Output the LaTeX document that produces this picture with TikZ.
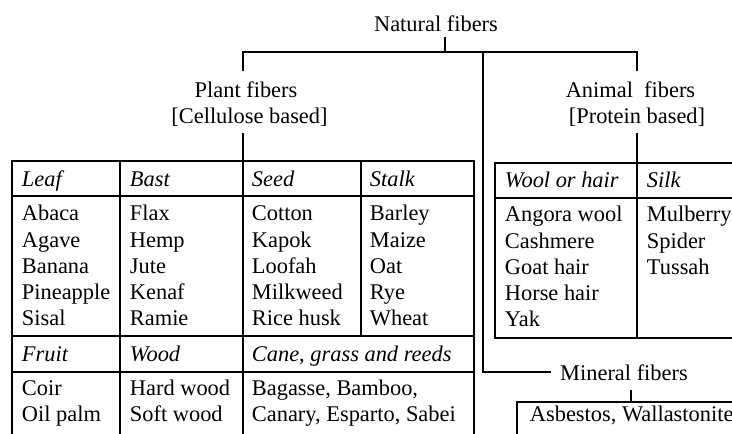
\documentclass[tikz,border=0pt]{standalone}
\usepackage{fontspec}
\setmainfont{Liberation Serif}
\newcommand{\lblfont}{\fontsize{22.4}{26.3}\selectfont}
\begin{document}
\begin{tikzpicture}[x=1pt,y=-1pt,line width=1.9pt,
  lbl/.style={inner sep=0pt,font=\lblfont,anchor=base},
  cell/.style={inner sep=0pt,font=\lblfont,anchor=base west},
  head/.style={cell,font=\lblfont\itshape},
  grid/.style={line width=1.9pt,line cap=rect}]
\useasboundingbox (0,0) rectangle (732,434);
\clip (0,0) rectangle (732,434);

% --- category labels ---
\node[lbl] (natural)    at (436,31.5)  {Natural fibers};
\node[lbl] (plant)      at (246,97)    {Plant fibers};
\node[lbl] (plantsub)   at (249.5,123) {[Cellulose based]};
\node[lbl] (animal)     at (630.5,97)  {Animal\ \ fibers};
\node[lbl] (animalsub)  at (637,123)   {[Protein based]};
\node[lbl] (mineral)    at (624,380)   {Mineral fibers};

% --- junction points of the tree ---
\coordinate (nat-stem)   at (445,37);
\coordinate (nat-bar)    at (445,52);
\coordinate (plant-top)  at (243,71);
\coordinate (plant-bot)  at (243,133);
\coordinate (animal-top) at (637,71);
\coordinate (animal-bot) at (637,133);
\coordinate (min-split)  at (483,52);
\coordinate (min-end)    at (551,372.3);
\coordinate (min-stem)   at (631,390);

% --- plant table frame ---
\coordinate (pt-nw) at (12,160.7);
\coordinate (pt-se) at (474,450);
\coordinate (pt-tab) at (243,160.7);
% --- animal table frame ---
\coordinate (at-nw) at (495,162.7);
\coordinate (at-se) at (760,338.3);
\coordinate (at-tab) at (637,162.7);
% --- mineral box ---
\coordinate (mb-nw) at (517,401.7);
\coordinate (mb-se) at (760,460);
\coordinate (mb-tab) at (631,401.7);

% connectors
\draw (nat-stem) -- (nat-bar);
\draw (plant-top) |- (animal-top |- nat-bar) -- (animal-top);
\draw (plant-bot) -- (pt-tab);
\draw (animal-bot) -- (at-tab);
\draw (min-split) |- (min-end);
\draw (min-stem) -- (mb-tab);

% plant table grid
\draw[grid] (pt-nw) rectangle (pt-se);
\draw[grid] (12,196) -- (474,196);
\draw[grid] (12,336) -- (474,336);
\draw[grid] (12,371.7) -- (474,371.7);
\draw[grid] (120,160.7) -- (120,450);
\draw[grid] (243,160.7) -- (243,450);
\draw[grid] (361,160.7) -- (361,336);

% animal table grid
\draw[grid] (at-nw) rectangle (at-se);
\draw[grid] (495,197.7) -- (760,197.7);
\draw[grid] (637,162.7) -- (637,338.3);

% mineral box
\draw[grid] (mb-nw) rectangle (mb-se);

% plant table headers
\node[head] (h-leaf)  at (21,186.7)   {Leaf};
\node[head] (h-bast)  at (129,186.7)  {Bast};
\node[head] (h-seed)  at (251,186.7)  {Seed};
\node[head] (h-stalk) at (369,186.7)  {Stalk};
\node[head] (h-fruit) at (21,361.5)   {Fruit};
\node[head] (h-wood)  at (129,361.5)  {Wood};
\node[head] (h-cane)  at (251,361.5)  {Cane, grass and reeds};

% plant table entries
\foreach \t [count=\i from 0] in {Abaca,Agave,Banana,Pineapple,Sisal}
  \node[cell] (leaf-\i) at (21,220.7+26.3*\i) {\t};
\foreach \t [count=\i from 0] in {Flax,Hemp,Jute,Kenaf,Ramie}
  \node[cell] (bast-\i) at (129,220.7+26.3*\i) {\t};
\foreach \t [count=\i from 0] in {Cotton,Kapok,Loofah,Milkweed,Rice husk}
  \node[cell] (seed-\i) at (251,220.7+26.3*\i) {\t};
\foreach \t [count=\i from 0] in {Barley,Maize,Oat,Rye,Wheat}
  \node[cell] (stalk-\i) at (369,220.7+26.3*\i) {\t};
\node[cell] (fruit-0) at (21,395.5)  {Coir};
\node[cell] (fruit-1) at (21,421.7)  {Oil palm};
\node[cell] (wood-0)  at (129,395.5) {Hard wood};
\node[cell] (wood-1)  at (129,421.7) {Soft wood};
\node[cell] (cane-0)  at (251,395.5) {Bagasse, Bamboo,};
\node[cell] (cane-1)  at (251,421.7) {Canary, Esparto, Sabei};

% animal table
\node[head] (h-wool) at (504,187.3) {Wool or hair};
\node[head] (h-silk) at (646,187.3) {Silk};
\foreach \t [count=\i from 0] in {Angora wool,Cashmere,Goat hair,Horse hair,Yak}
  \node[cell] (wool-\i) at (504,221.7+26.3*\i) {\t};
\foreach \t [count=\i from 0] in {Mulberry,Spider,Tussah}
  \node[cell] (silk-\i) at (646,221.7+26.3*\i) {\t};

% mineral box entry
\node[cell] (min-0) at (529,421.7) {Asbestos, Wallastonite};
\end{tikzpicture}
\end{document}
